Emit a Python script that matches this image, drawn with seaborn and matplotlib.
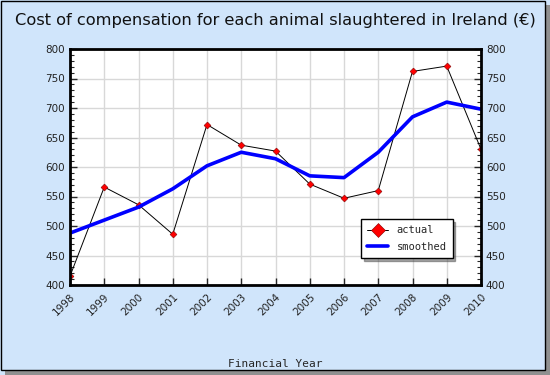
import matplotlib
matplotlib.use("Agg")
import numpy as np
import pandas as pd
import seaborn as sns
import matplotlib.pyplot as plt
from matplotlib.patches import Rectangle
from matplotlib.ticker import MultipleLocator

# data
years = [1998, 1999, 2000, 2001, 2002, 2003, 2004, 2005, 2006, 2007, 2008, 2009, 2010]
actual = [415, 566, 536, 486, 672, 637, 627, 571, 547, 560, 762, 771, 630]
smoothed = [488, 510, 532, 563, 602, 625, 614, 585, 582, 625, 685, 710, 698]

bg = "#d0e5fb"
sns.set_style("white")
plt.rcParams["font.family"] = ["DejaVu Sans"]

df = pd.DataFrame({"year": years, "actual": actual, "smoothed": smoothed})

fig = plt.figure(figsize=(5.5, 3.75), dpi=100, facecolor=bg)
# frame with shadow
fig.patches.append(Rectangle((5 / 550, 0), 545 / 550, 370 / 375, transform=fig.transFigure,
                             facecolor="#909090", edgecolor="none", zorder=-2))
fig.patches.append(Rectangle((0.5 / 550, 5 / 375), 544 / 550, 369 / 375, transform=fig.transFigure,
                             facecolor=bg, edgecolor="black", linewidth=1, zorder=-1))
ax = fig.add_axes([70 / 550, 1 - 285 / 375, 411 / 550, 236 / 375])
ax.set_facecolor("white")

sns.lineplot(data=df, x="year", y="actual", ax=ax, color="black", linewidth=0.7,
             marker="D", markersize=3.5, markerfacecolor="red", markeredgecolor="#800000",
             markeredgewidth=0.4, label="actual")
sns.lineplot(data=df, x="year", y="smoothed", ax=ax, color="#0000ff", linewidth=2.6,
             label="smoothed")

ax.set_xlim(1998, 2010)
ax.set_ylim(400, 800)
ax.set_xticks(years)
ax.set_xticklabels([str(y) for y in years], rotation=45, ha="right", va="top",
                   rotation_mode="anchor", fontsize=7.5, color="#222222")
ax.yaxis.set_major_locator(MultipleLocator(50))
ax.yaxis.set_minor_locator(MultipleLocator(10))
ax.tick_params(axis="y", which="major", labelsize=7.5, labelcolor="#222222",
               left=True, right=True, labelleft=True, labelright=True, length=5, width=1, direction="in")
ax.tick_params(axis="y", which="minor", left=True, right=True, length=3, width=0.8, direction="in")
ax.tick_params(axis="x", which="major", bottom=True, length=5, width=1, direction="in", pad=5)
ax.grid(True, color="#d8d8d8", linewidth=1)
ax.set_axisbelow(True)
for s in ax.spines.values():
    s.set_linewidth(2)
    s.set_color("black")

ax.set_xlabel("Financial Year", family="DejaVu Sans Mono", fontsize=8, labelpad=30)
ax.set_ylabel("")
fig.text(0.5, 1 - 20 / 375, "Cost of compensation for each animal slaughtered in Ireland (\u20ac)",
         ha="center", va="center", fontsize=11.7, color="#111111")

leg = ax.legend(loc="upper left", bbox_to_anchor=((361 - 70) / 411, (285 - 219) / 236),
                frameon=True, fancybox=False, shadow=True, prop={"family": "DejaVu Sans Mono", "size": 7.5},
                borderpad=0.6, handlelength=2.0, labelspacing=0.6, borderaxespad=0, markerscale=2.0)
leg.get_frame().set_edgecolor("black")
leg.get_frame().set_linewidth(1)

fig.savefig("out.png", dpi=100, facecolor=bg)
